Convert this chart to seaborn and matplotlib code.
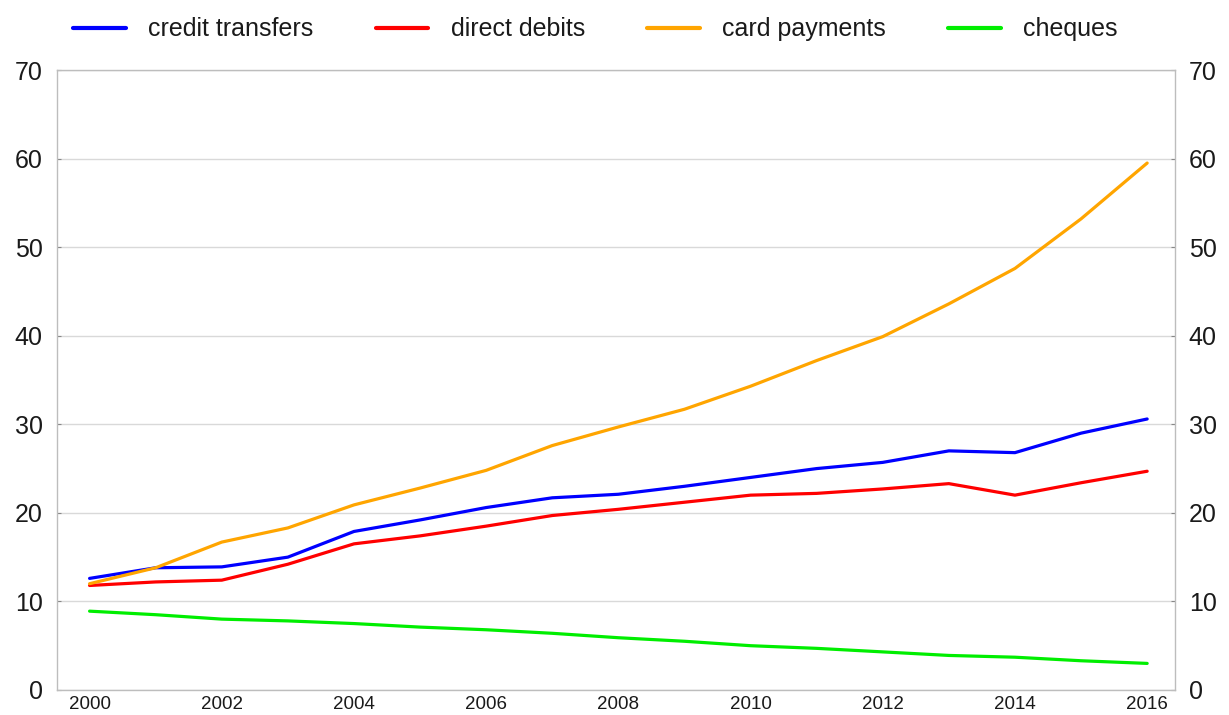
import pandas as pd
import seaborn as sns
import matplotlib.pyplot as plt
from matplotlib.ticker import MultipleLocator

# data
years = list(range(2000, 2017))
credit_transfers = [12.6, 13.8, 13.9, 15.0, 17.9, 19.2, 20.6, 21.7, 22.1, 23.0,
                    24.0, 25.0, 25.7, 27.0, 26.8, 29.0, 30.6]
direct_debits = [11.8, 12.2, 12.4, 14.2, 16.5, 17.4, 18.5, 19.7, 20.4, 21.2,
                 22.0, 22.2, 22.7, 23.3, 22.0, 23.4, 24.7]
card_payments = [12.0, 13.8, 16.7, 18.3, 20.9, 22.8, 24.8, 27.6, 29.7, 31.7,
                 34.3, 37.2, 39.9, 43.6, 47.6, 53.2, 59.5]
cheques = [8.9, 8.5, 8.0, 7.8, 7.5, 7.1, 6.8, 6.4, 5.9, 5.5,
           5.0, 4.7, 4.3, 3.9, 3.7, 3.3, 3.0]

series = {
    "credit transfers": credit_transfers,
    "direct debits": direct_debits,
    "card payments": card_payments,
    "cheques": cheques,
}
colors = {
    "credit transfers": "#0000ff",
    "direct debits": "#ff0000",
    "card payments": "#ffa500",
    "cheques": "#00ee00",
}

df = pd.DataFrame(
    [(y, name, v) for name, vals in series.items() for y, v in zip(years, vals)],
    columns=["year", "instrument", "value"],
)

sns.set_style("white")
plt.rcParams["font.family"] = ["Liberation Sans Narrow", "Liberation Sans", "DejaVu Sans"]
plt.rcParams["text.color"] = "#1a1a1a"

fig = plt.figure(figsize=(12.29, 7.15), dpi=100)
ax = fig.add_axes([0.046, 0.035, 0.910, 0.867])

sns.lineplot(data=df, x="year", y="value", hue="instrument", palette=colors,
             linewidth=2.3, ax=ax)

ax.set_xlim(1999.5, 2016.42)
ax.set_ylim(0, 70)
ax.xaxis.set_major_locator(MultipleLocator(2))
ax.xaxis.set_minor_locator(MultipleLocator(1))
ax.yaxis.set_major_locator(MultipleLocator(10))
ax.grid(axis="y", color="#d9d9d9", linewidth=1)
ax.set_axisbelow(True)
ax.set_xlabel("")
ax.set_ylabel("")

for s in ax.spines.values():
    s.set_color("#bdbdbd")
    s.set_linewidth(1)

ax.tick_params(axis="x", which="both", direction="in", color="#888888",
               labelsize=13.5, labelcolor="#1a1a1a", pad=4, length=5)
ax.tick_params(axis="y", direction="in", length=3, color="#888888",
               labelsize=18, labelcolor="#1a1a1a", left=True, right=True,
               labelleft=True, labelright=True, pad=10)

ax.legend(loc="lower left", bbox_to_anchor=(0.006, 1.03, 0.952, 0.08), ncol=4,
          mode="expand", frameon=False, fontsize=18, handlelength=2.1,
          handletextpad=0.9, borderaxespad=0)
for line in ax.get_legend().get_lines():
    line.set_linewidth(3)

fig.savefig("out.png", dpi=100)
